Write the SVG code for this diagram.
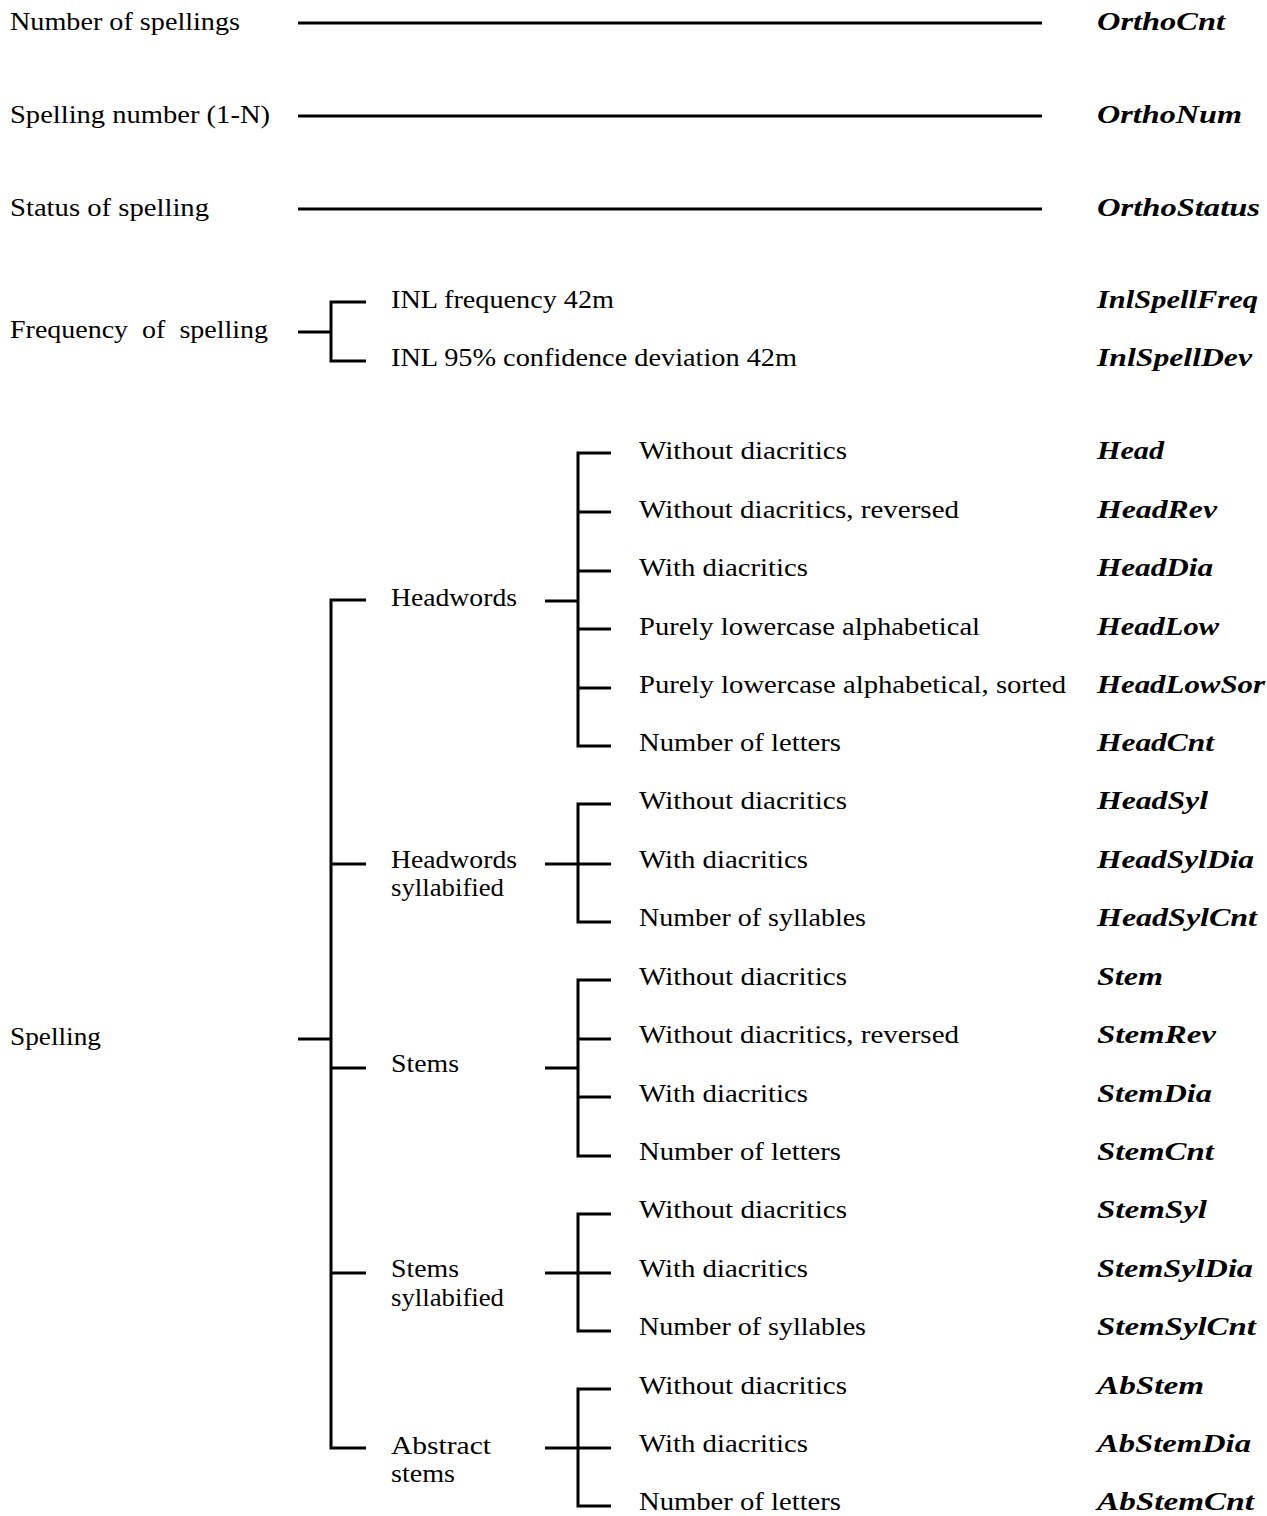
<svg xmlns="http://www.w3.org/2000/svg" width="1267" height="1516" viewBox="0 0 1267 1516">
<style>
text{font-family:"Liberation Serif","Times New Roman",serif;font-size:25px;fill:#000}
.c{font-weight:bold;font-style:italic}
.ln{stroke:#000;stroke-width:3;fill:none;stroke-linejoin:miter;stroke-linecap:butt}
</style>
<rect width="1267" height="1516" fill="#fff"/>
<g id="connectors" class="ln">
<path d="M298 23H1042"/>
<path d="M298 116H1042"/>
<path d="M298 209H1042"/>
<path d="M298 332H331"/>
<path d="M366 302H331V361H366"/>
<path d="M298 1039H331"/>
<path d="M366 600H331V1448H366"/>
<path d="M331 864H366"/>
<path d="M331 1068H366"/>
<path d="M331 1273H366"/>
<path d="M545 601H578"/>
<path d="M611 453H578V746H611"/>
<path d="M578 512H611M578 571H611M578 629H611M578 688H611"/>
<path d="M545 864H611"/>
<path d="M611 804H578V922H611"/>
<path d="M545 1068H578"/>
<path d="M611 980H578V1156H611"/>
<path d="M578 1039H611M578 1097H611"/>
<path d="M545 1273H611"/>
<path d="M611 1214H578V1331H611"/>
<path d="M545 1448H611"/>
<path d="M611 1389H578V1506H611"/>
</g>
<g id="n-orthocnt"><text x="10" y="30" textLength="230" lengthAdjust="spacingAndGlyphs">Number of spellings</text><text class="c" x="1097" y="30" textLength="128" lengthAdjust="spacingAndGlyphs">OrthoCnt</text></g>
<g id="n-orthonum"><text x="10" y="123" textLength="260" lengthAdjust="spacingAndGlyphs">Spelling number (1-N)</text><text class="c" x="1097" y="123" textLength="145" lengthAdjust="spacingAndGlyphs">OrthoNum</text></g>
<g id="n-orthostatus"><text x="10" y="216" textLength="199" lengthAdjust="spacingAndGlyphs">Status of spelling</text><text class="c" x="1097" y="216" textLength="163" lengthAdjust="spacingAndGlyphs">OrthoStatus</text></g>
<g id="n-frequency"><text x="10" y="338" textLength="258" lengthAdjust="spacingAndGlyphs" xml:space="preserve">Frequency  of  spelling</text></g>
<g id="n-inlspellfreq"><text x="391" y="308" textLength="223" lengthAdjust="spacingAndGlyphs">INL frequency 42m</text><text class="c" x="1097" y="308" textLength="161" lengthAdjust="spacingAndGlyphs">InlSpellFreq</text></g>
<g id="n-inlspelldev"><text x="391" y="366" textLength="406" lengthAdjust="spacingAndGlyphs">INL 95% confidence deviation 42m</text><text class="c" x="1097" y="366" textLength="155" lengthAdjust="spacingAndGlyphs">InlSpellDev</text></g>
<g id="n-spelling"><text x="10" y="1045" textLength="91" lengthAdjust="spacingAndGlyphs">Spelling</text></g>
<g id="n-headwords"><text x="391" y="606" textLength="126" lengthAdjust="spacingAndGlyphs">Headwords</text></g>
<g id="n-headwords-syl"><text x="391" y="868" textLength="126" lengthAdjust="spacingAndGlyphs">Headwords</text><text x="391" y="896" textLength="113" lengthAdjust="spacingAndGlyphs">syllabified</text></g>
<g id="n-stems"><text x="391" y="1072" textLength="68" lengthAdjust="spacingAndGlyphs">Stems</text></g>
<g id="n-stems-syl"><text x="391" y="1277" textLength="68" lengthAdjust="spacingAndGlyphs">Stems</text><text x="391" y="1306" textLength="113" lengthAdjust="spacingAndGlyphs">syllabified</text></g>
<g id="n-abstract"><text x="391" y="1454" textLength="100" lengthAdjust="spacingAndGlyphs">Abstract</text><text x="391" y="1482" textLength="64" lengthAdjust="spacingAndGlyphs">stems</text></g>
<g id="n-head"><text x="639" y="459" textLength="208" lengthAdjust="spacingAndGlyphs">Without diacritics</text><text class="c" x="1097" y="459" textLength="67" lengthAdjust="spacingAndGlyphs">Head</text></g>
<g id="n-headrev"><text x="639" y="518" textLength="320" lengthAdjust="spacingAndGlyphs">Without diacritics, reversed</text><text class="c" x="1097" y="518" textLength="120" lengthAdjust="spacingAndGlyphs">HeadRev</text></g>
<g id="n-headdia"><text x="639" y="576" textLength="169" lengthAdjust="spacingAndGlyphs">With diacritics</text><text class="c" x="1097" y="576" textLength="116" lengthAdjust="spacingAndGlyphs">HeadDia</text></g>
<g id="n-headlow"><text x="639" y="635" textLength="341" lengthAdjust="spacingAndGlyphs">Purely lowercase alphabetical</text><text class="c" x="1097" y="635" textLength="122" lengthAdjust="spacingAndGlyphs">HeadLow</text></g>
<g id="n-headlowsor"><text x="639" y="693" textLength="427" lengthAdjust="spacingAndGlyphs">Purely lowercase alphabetical, sorted</text><text class="c" x="1097" y="693" textLength="168" lengthAdjust="spacingAndGlyphs">HeadLowSor</text></g>
<g id="n-headcnt"><text x="639" y="751" textLength="202" lengthAdjust="spacingAndGlyphs">Number of letters</text><text class="c" x="1097" y="751" textLength="117" lengthAdjust="spacingAndGlyphs">HeadCnt</text></g>
<g id="n-headsyl"><text x="639" y="809" textLength="208" lengthAdjust="spacingAndGlyphs">Without diacritics</text><text class="c" x="1097" y="809" textLength="111" lengthAdjust="spacingAndGlyphs">HeadSyl</text></g>
<g id="n-headsyldia"><text x="639" y="868" textLength="169" lengthAdjust="spacingAndGlyphs">With diacritics</text><text class="c" x="1097" y="868" textLength="157" lengthAdjust="spacingAndGlyphs">HeadSylDia</text></g>
<g id="n-headsylcnt"><text x="639" y="926" textLength="227" lengthAdjust="spacingAndGlyphs">Number of syllables</text><text class="c" x="1097" y="926" textLength="160" lengthAdjust="spacingAndGlyphs">HeadSylCnt</text></g>
<g id="n-stem"><text x="639" y="985" textLength="208" lengthAdjust="spacingAndGlyphs">Without diacritics</text><text class="c" x="1097" y="985" textLength="66" lengthAdjust="spacingAndGlyphs">Stem</text></g>
<g id="n-stemrev"><text x="639" y="1043" textLength="320" lengthAdjust="spacingAndGlyphs">Without diacritics, reversed</text><text class="c" x="1097" y="1043" textLength="119" lengthAdjust="spacingAndGlyphs">StemRev</text></g>
<g id="n-stemdia"><text x="639" y="1102" textLength="169" lengthAdjust="spacingAndGlyphs">With diacritics</text><text class="c" x="1097" y="1102" textLength="115" lengthAdjust="spacingAndGlyphs">StemDia</text></g>
<g id="n-stemcnt"><text x="639" y="1160" textLength="202" lengthAdjust="spacingAndGlyphs">Number of letters</text><text class="c" x="1097" y="1160" textLength="117" lengthAdjust="spacingAndGlyphs">StemCnt</text></g>
<g id="n-stemsyl"><text x="639" y="1218" textLength="208" lengthAdjust="spacingAndGlyphs">Without diacritics</text><text class="c" x="1097" y="1218" textLength="110" lengthAdjust="spacingAndGlyphs">StemSyl</text></g>
<g id="n-stemsyldia"><text x="639" y="1277" textLength="169" lengthAdjust="spacingAndGlyphs">With diacritics</text><text class="c" x="1097" y="1277" textLength="156" lengthAdjust="spacingAndGlyphs">StemSylDia</text></g>
<g id="n-stemsylcnt"><text x="639" y="1335" textLength="227" lengthAdjust="spacingAndGlyphs">Number of syllables</text><text class="c" x="1097" y="1335" textLength="159" lengthAdjust="spacingAndGlyphs">StemSylCnt</text></g>
<g id="n-abstem"><text x="639" y="1394" textLength="208" lengthAdjust="spacingAndGlyphs">Without diacritics</text><text class="c" x="1097" y="1394" textLength="107" lengthAdjust="spacingAndGlyphs">AbStem</text></g>
<g id="n-abstemdia"><text x="639" y="1452" textLength="169" lengthAdjust="spacingAndGlyphs">With diacritics</text><text class="c" x="1097" y="1452" textLength="154" lengthAdjust="spacingAndGlyphs">AbStemDia</text></g>
<g id="n-abstemcnt"><text x="639" y="1510" textLength="202" lengthAdjust="spacingAndGlyphs">Number of letters</text><text class="c" x="1097" y="1510" textLength="157" lengthAdjust="spacingAndGlyphs">AbStemCnt</text></g>
</svg>
